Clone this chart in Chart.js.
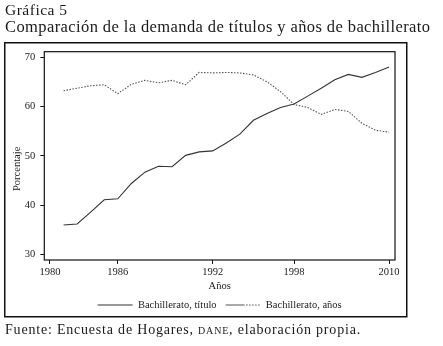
<!DOCTYPE html>
<html lang="es">
<head>
  <meta charset="UTF-8" />
  <title>Gráfica 5</title>
  <script src="https://cdn.jsdelivr.net/npm/chart.js"></script>
  <style>
    body { margin: 0; width: 443px; height: 346px; background: #fff; position: relative; font-family: "Liberation Serif", serif; color: #1a1a1a; }
    #chart { position: absolute; left: 0; top: 0; }
    .t1 { position: absolute; left: 5px; top: 1px; font-size: 15.5px; letter-spacing: 0.5px; }
    .t2 { position: absolute; left: 5px; top: 17px; font-size: 16.5px; letter-spacing: 0.4px; }
    .src { position: absolute; left: 5px; top: 322px; font-size: 14px; letter-spacing: 0.8px; }
    .sc { font-variant: small-caps; }
  </style>
</head>
<body>
  <canvas id="chart" width="443" height="346"></canvas>
  <div class="t1">Gráfica 5</div>
  <div class="t2">Comparación de la demanda de títulos y años de bachillerato</div>
  <div class="src">Fuente: Encuesta de Hogares, <span class="sc">dane</span>, elaboración propia.</div>

  <script>
    // one value per observation, in order (25 points)
    const titulo = [36.0, 36.2, 38.6, 41.1, 41.3, 44.4, 46.7, 47.9, 47.8, 50.1, 50.8, 51.0,
                    52.6, 54.4, 57.2, 58.6, 59.8, 60.5, 62.1, 63.7, 65.4, 66.5, 65.9, 66.9, 68.0];
    const anios  = [63.2, 63.7, 64.2, 64.4, 62.6, 64.5, 65.3, 64.8, 65.3, 64.4, 66.9, 66.8,
                    66.9, 66.8, 66.4, 65.0, 63.0, 60.4, 59.8, 58.4, 59.4, 59.0, 56.6, 55.2, 54.8];
    const tickPos = [-1, 4, 11, 17, 24];
    const tickLabels = ['1980', '1986', '1992', '1998', '2010'];
    const yTicks = [30, 40, 50, 60, 70];
    const seriesNames = ['Bachillerato, título', 'Bachillerato, años'];

    const serif = 'Liberation Serif';

    // outer box, box around the plot region, rotated y title
    const frames = {
      id: 'frames',
      afterDraw(chart) {
        const { ctx, chartArea: a } = chart;
        ctx.save();
        ctx.strokeStyle = '#111';
        ctx.lineWidth = 1.5;
        ctx.strokeRect(4.75, 42.75, 402, 274);
        ctx.lineWidth = 1.2;
        ctx.strokeRect(a.left, a.top, a.right - a.left, a.bottom - a.top);
        ctx.translate(a.left - 27.5, (a.top + a.bottom) / 2 + 13);
        ctx.rotate(-Math.PI / 2);
        ctx.fillStyle = '#1a1a1a';
        ctx.font = '10.5px "' + serif + '"';
        ctx.textAlign = 'center';
        ctx.textBaseline = 'middle';
        ctx.fillText('Porcentaje', 0, 0);
        ctx.restore();
      }
    };

    new Chart(document.getElementById('chart'), {
      type: 'line',
      data: {
        datasets: [{
          label: seriesNames[0],
          data: titulo.map((v, i) => ({ x: i, y: v })),
          borderColor: '#333',
          borderWidth: 1.1,
          pointRadius: 0,
          tension: 0
        }, {
          label: seriesNames[1],
          data: anios.map((v, i) => ({ x: i, y: v })),
          borderColor: '#555',
          borderWidth: 1.1,
          borderDash: [1.5, 1.5],
          pointRadius: 0,
          tension: 0
        }]
      },
      options: {
        responsive: false,
        animation: false,
        layout: { padding: { top: 51.7, right: 48, left: 5.5, bottom: 25.7 } },
        plugins: {
          tooltip: { enabled: false },
          legend: {
            position: 'bottom',
            fullSize: false,
            labels: {
              usePointStyle: true,
              pointStyle: 'line',
              pointStyleWidth: 35,
              boxWidth: 35,
              padding: 9,
              color: '#1a1a1a',
              font: { family: serif, size: 10.5 },
              generateLabels(chart) {
                const items = Chart.defaults.plugins.legend.labels.generateLabels(chart);
                items.forEach((it, i) => {
                  it.lineWidth = 1.1;
                  it.lineDash = i === 1 ? [19, 1.5, 1.5, 1.5, 1.5, 1.5, 1.5, 1.5, 1.5, 1.5, 1.5, 1.5, 1.5] : [];
                });
                return items;
              }
            }
          }
        },
        scales: {
          x: {
            type: 'linear',
            min: -1.42,
            max: 24.44,
            afterBuildTicks: s => { s.ticks = tickPos.map(v => ({ value: v })); },
            afterFit: s => { s.height = 30.8; },
            border: { display: false },
            grid: { drawOnChartArea: false, drawTicks: true, tickLength: 4, color: '#111' },
            ticks: {
              padding: 2,
              maxRotation: 0,
              color: '#1a1a1a',
              font: { family: serif, size: 10.5 },
              callback: v => tickLabels[tickPos.indexOf(v)]
            },
            title: {
              display: true,
              text: 'Años',
              padding: { top: 0, bottom: -1.5 },
              color: '#1a1a1a',
              font: { family: serif, size: 10.5 }
            }
          },
          y: {
            min: 28.9,
            max: 71.1,
            afterBuildTicks: s => { s.ticks = yTicks.map(v => ({ value: v })); },
            afterFit: s => { s.width = 38.8; },
            border: { display: false },
            grid: { drawOnChartArea: false, drawTicks: true, tickLength: 4, color: '#111' },
            ticks: {
              padding: 5,
              color: '#1a1a1a',
              font: { family: serif, size: 10.5 }
            }
          }
        }
      },
      plugins: [frames]
    });
  </script>
</body>
</html>
